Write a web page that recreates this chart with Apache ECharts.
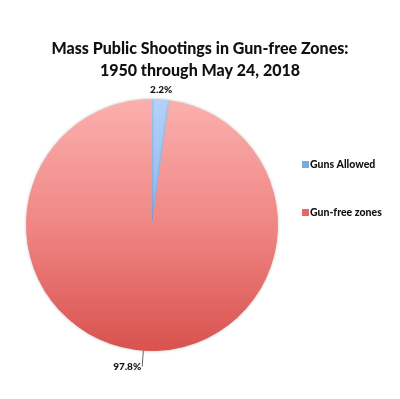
<!DOCTYPE html>
<html>
<head>
<meta charset="utf-8">
<script src="https://cdn.jsdelivr.net/npm/echarts@6/dist/echarts.min.js"></script>
<style>
  html, body { margin: 0; padding: 0; background: #fff; }
  #chart { width: 400px; height: 399px; }
</style>
</head>
<body>
<div id="chart"></div>
<script>
  var categories = ['Guns Allowed', 'Gun-free zones'];
  var shares = [2.2, 97.8];
  var titleLines = ['Mass Public Shootings in Gun-free Zones:', '1950 through May 24, 2018'];

  var fills = [
    new echarts.graphic.LinearGradient(0, 0, 0, 1, [
      { offset: 0, color: '#b4d2fa' },
      { offset: 1, color: '#8cb6ee' }
    ]),
    new echarts.graphic.LinearGradient(0, 0, 0, 1, [
      { offset: 0, color: '#fbb0ae' },
      { offset: 0.5, color: '#ef8684' },
      { offset: 1, color: '#d9524e' }
    ])
  ];
  var legendColors = ['#7ba9e3', '#e06a68'];

  var myChart = echarts.init(document.getElementById('chart'));
  var pieData = categories.map(function (c, i) {
    var item = {
      name: c,
      value: shares[i],
      itemStyle: { color: fills[i] }
    };
    if (i === 0) {
      item.labelLine = { show: false, length: 6, length2: 0 };
    }
    return item;
  });

  myChart.setOption({
    title: {
      text: titleLines.join('\n'),
      left: 'center',
      top: 33,
      textStyle: {
        fontFamily: 'Lato',
        fontWeight: 900,
        fontSize: 16,
        lineHeight: 22,
        color: '#111'
      }
    },
    legend: {
      orient: 'vertical',
      left: 297,
      top: 154,
      itemGap: 37,
      itemWidth: 7,
      itemHeight: 7,
      icon: 'rect',
      data: categories.map(function (c, i) {
        return { name: c, itemStyle: { color: legendColors[i] } };
      }),
      textStyle: {
        fontFamily: 'Lato',
        fontWeight: 900,
        fontSize: 10.5,
        color: '#111',
        padding: [0, 0, 0, -4]
      }
    },
    series: [{
      type: 'pie',
      center: [152, 225],
      radius: 126,
      startAngle: 90,
      clockwise: true,
      avoidLabelOverlap: false,
      silent: true,
      data: pieData,
      label: {
        show: true,
        position: 'outside',
        distanceToLabelLine: 1,
        formatter: function (p) { return p.value.toFixed(1) + '%'; },
        fontFamily: 'Lato',
        fontWeight: 900,
        fontSize: 10,
        color: '#111'
      },
      labelLine: {
        show: true,
        length: 16,
        length2: 0,
        lineStyle: { color: '#666', width: 1 }
      },
      labelLayout: function (params) {
        if (params.dataIndex === 0) {
          return { dx: -12, dy: -4 };
        }
        return {};
      },
      itemStyle: {
        shadowColor: 'rgba(0,0,0,0.25)',
        shadowBlur: 3
      }
    }]
  });
</script>
</body>
</html>
